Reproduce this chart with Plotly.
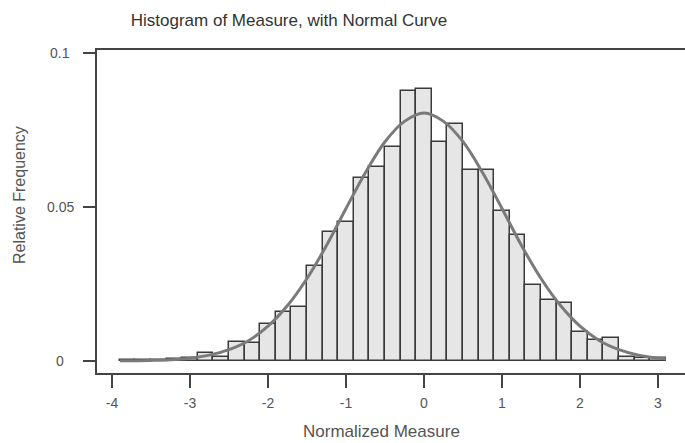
import plotly.graph_objects as go

# ---- data ----
bin_centers = [-3.8, -3.6, -3.4, -3.2, -3.0, -2.8, -2.6, -2.4, -2.2, -2.0, -1.8, -1.6,
               -1.4, -1.2, -1.0, -0.8, -0.6, -0.4, -0.2, 0.0, 0.2, 0.4, 0.6, 0.8,
               1.0, 1.2, 1.4, 1.6, 1.8, 2.0, 2.2, 2.4, 2.6, 2.8, 3.0]
rel_freq = [0.0004, 0.0003, 0.0004, 0.0005, 0.0009, 0.0026, 0.0014, 0.0063, 0.0058, 0.0120, 0.0160, 0.0176,
            0.0310, 0.0420, 0.0450, 0.0594, 0.0630, 0.0695, 0.0877, 0.0882, 0.0710, 0.0770, 0.0620, 0.0620,
            0.0487, 0.0410, 0.0247, 0.0198, 0.0188, 0.0094, 0.0068, 0.0075, 0.0013, 0.0010, 0.0010]
bin_width = 0.2

curve_x = [-3.9, -3.5, -3.25, -3.0, -2.75, -2.5, -2.25, -2.0, -1.75, -1.5, -1.25, -1.0, -0.75, -0.5, -0.25,
           0.0, 0.25, 0.5, 0.75, 1.0, 1.25, 1.5, 1.75, 2.0, 2.25, 2.5, 2.75, 3.0, 3.1]
curve_y = [0.00006, 0.0002, 0.0004, 0.0009, 0.0019, 0.0037, 0.0066, 0.0113, 0.0180, 0.0268, 0.0375, 0.0495, 0.0612, 0.0712, 0.0778,
           0.0805, 0.0778, 0.0712, 0.0612, 0.0495, 0.0375, 0.0268, 0.0180, 0.0113, 0.0066, 0.0037, 0.0019, 0.0009, 0.0007]

x_ticks = [-4, -3, -2, -1, 0, 1, 2, 3]
x_tick_text = ["-4", "-3", "-2", "-1", "0", "1", "2", "3"]
y_ticks = [0, 0.05, 0.1]
y_tick_text = ["0", "0.05", "0.1"]

FONT = "Liberation Sans, Arial, sans-serif"

fig = go.Figure()
fig.add_trace(go.Bar(x=bin_centers, y=rel_freq, width=bin_width,
                     marker=dict(color="#e6e6e6", line=dict(color="#3a3a3a", width=1.5)),
                     showlegend=False, hoverinfo="skip"))
fig.add_trace(go.Scatter(x=curve_x, y=curve_y, mode="lines",
                         line=dict(color="#7a7a7a", width=3, shape="spline"),
                         showlegend=False, hoverinfo="skip"))

W, H = 685, 443
L, R, T, B = 97, 0, 50, 70
plot_w = W - L - R
plot_h = H - T - B

annotations = []
for v, t in zip(y_ticks, y_tick_text):
    annotations.append(dict(text=t, xref="paper", yref="y", x=(60 - L) / plot_w, y=v,
                            xanchor="center", yanchor="middle", showarrow=False,
                            font=dict(family=FONT, size=14, color="#555555")))
annotations.append(dict(text="Relative Frequency", xref="paper", yref="paper",
                        x=(19 - L) / plot_w, y=(H - B - 195) / plot_h, textangle=-90,
                        xanchor="center", yanchor="middle", showarrow=False,
                        font=dict(family=FONT, size=16, color="#555555")))
annotations.append(dict(text="Normalized Measure", xref="paper", yref="paper",
                        x=(381 - L) / plot_w, y=(H - B - 432) / plot_h,
                        xanchor="center", yanchor="middle", showarrow=False,
                        font=dict(family=FONT, size=17, color="#555555")))

fig.update_layout(
    width=W, height=H,
    margin=dict(l=L, r=R, t=T, b=B, pad=0),
    paper_bgcolor="white", plot_bgcolor="white",
    bargap=0,
    title=dict(text="Histogram of Measure, with Normal Curve", x=289 / W, xref="container",
               xanchor="center", y=1 - 20 / H, yref="container", yanchor="middle",
               font=dict(family=FONT, size=17, color="#333333")),
    xaxis=dict(range=[(97 - 424) / 78, (685 - 424) / 78], tickvals=x_ticks, ticktext=x_tick_text,
               ticks="outside", ticklen=13, tickwidth=1.5, tickcolor="#444444",
               ticklabelstandoff=3,
               showline=True, linecolor="#444444", linewidth=2, mirror=True,
               showgrid=False, zeroline=False,
               tickfont=dict(family=FONT, size=14, color="#555555")),
    yaxis=dict(range=[(361 - 373) / 3080, (361 - 50) / 3080], tickvals=y_ticks,
               ticks="outside", ticklen=12, tickwidth=1.5, tickcolor="#444444",
               showticklabels=False,
               showline=True, linecolor="#444444", linewidth=2, mirror=False,
               showgrid=False, zeroline=False),
    annotations=annotations,
)

fig.write_html("out.html")
